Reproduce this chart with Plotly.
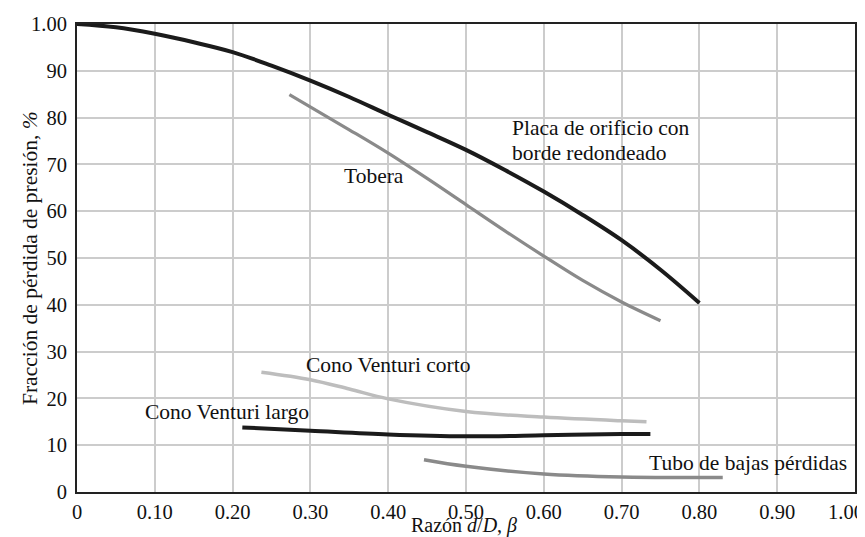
import plotly.graph_objects as go

# ---- data ----
placa_x = [0.0, 0.05, 0.10, 0.15, 0.20, 0.25, 0.30, 0.35, 0.40, 0.45, 0.50, 0.55, 0.60, 0.65, 0.70, 0.75, 0.80]
placa_y = [100.0, 99.3, 97.9, 96.1, 94.0, 91.1, 87.9, 84.4, 80.6, 76.9, 73.1, 68.8, 64.2, 59.2, 53.8, 47.5, 40.4]

tobera_x = [0.273, 0.35, 0.40, 0.45, 0.50, 0.55, 0.60, 0.65, 0.70, 0.75]
tobera_y = [84.9, 77.4, 72.4, 67.0, 61.4, 55.8, 50.4, 45.2, 40.6, 36.6]

corto_x = [0.237, 0.30, 0.35, 0.40, 0.50, 0.60, 0.70, 0.732]
corto_y = [25.6, 24.0, 22.0, 19.9, 17.2, 16.0, 15.2, 15.0]

largo_x = [0.2125, 0.30, 0.40, 0.50, 0.60, 0.70, 0.737]
largo_y = [13.8, 13.1, 12.3, 11.9, 12.1, 12.4, 12.4]

tubo_x = [0.446, 0.50, 0.60, 0.70, 0.80, 0.830]
tubo_y = [6.9, 5.5, 3.85, 3.2, 3.1, 3.1]

x_tickvals = [0, 0.1, 0.2, 0.3, 0.4, 0.5, 0.6, 0.7, 0.8, 0.9, 1.0]
x_ticktext = ["0", "0.10", "0.20", "0.30", "0.40", "0.50", "0.60", "0.70", "0.80", "0.90", ""]
x_last_label = "1.00"
y_tickvals = [0, 10, 20, 30, 40, 50, 60, 70, 80, 90, 100]
y_ticktext = ["0", "10", "20", "30", "40", "50", "60", "70", "80", "90", "1.00"]

FONT = "Liberation Serif"
TXT = "#111111"

fig = go.Figure()

def add(xs, ys, color, width):
    fig.add_trace(go.Scatter(x=xs, y=ys, mode="lines",
                             line=dict(color=color, width=width, shape="spline", smoothing=1.0),
                             hoverinfo="skip", showlegend=False))

add(placa_x, placa_y, "#1b1b1b", 4)
add(tobera_x, tobera_y, "#8a8a8a", 3.2)
add(corto_x, corto_y, "#bdbdbd", 3.5)
add(largo_x, largo_y, "#1b1b1b", 4)
add(tubo_x, tubo_y, "#8a8a8a", 3.5)

labels = [
    (0.557, 77.8, "Placa de orificio con"),
    (0.557, 72.4, "borde redondeado"),
    (0.340, 67.5, "Tobera"),
    (0.292, 27.2, "Cono Venturi corto"),
    (0.0848, 17.1, "Cono Venturi largo"),
    (0.733, 6.2, "Tubo de bajas pérdidas"),
]
for lx, ly, txt in labels:
    fig.add_annotation(x=lx, y=ly, text=txt, showarrow=False, xanchor="left",
                       yanchor="middle", align="left",
                       font=dict(family=FONT, size=21.5, color=TXT))

# last x tick label, nudged inward like the reference
fig.add_annotation(x=1.0, y=-0.042, xref="x", yref="paper", text=x_last_label,
                   showarrow=False, xanchor="center", yanchor="middle", xshift=-9,
                   font=dict(family=FONT, size=20.5, color=TXT))

# axis titles
fig.add_annotation(x=0.497, y=-0.072, xref="paper", yref="paper", yanchor="middle",
                   text="Razón <i>d</i>/<i>D</i>, <i>β</i>", showarrow=False,
                   font=dict(family=FONT, size=20, color=TXT))
fig.add_annotation(x=-0.0604, y=0.5, xref="paper", yref="paper", xanchor="center",
                   text="Fracción de pérdida de presión, <i>%</i>", showarrow=False,
                   textangle=-90, font=dict(family=FONT, size=21.5, color=TXT))

axis_common = dict(showgrid=True, gridcolor="#cccccc", gridwidth=1.5,
                   showline=True, linecolor="#222222", linewidth=2, mirror=True,
                   ticks="", zeroline=False, automargin=False,
                   tickfont=dict(family=FONT, size=20.5, color=TXT))

fig.update_xaxes(range=[0, 1], tickvals=x_tickvals, ticktext=x_ticktext, **axis_common)
fig.update_yaxes(range=[0, 100], tickvals=y_tickvals, ticktext=y_ticktext,
                 ticklabelstandoff=4, **axis_common)

fig.update_layout(width=865, height=537,
                  margin=dict(l=69, r=18, t=16, b=53),
                  plot_bgcolor="white", paper_bgcolor="white",
                  font=dict(family=FONT, size=21, color=TXT))

fig.write_html("out.html")
